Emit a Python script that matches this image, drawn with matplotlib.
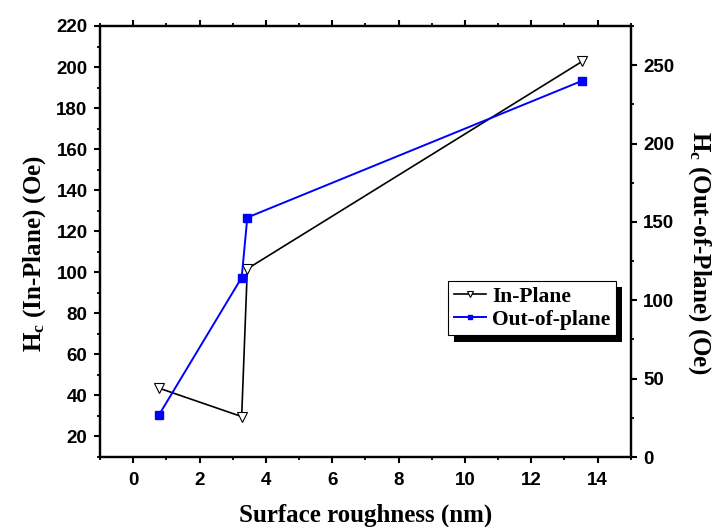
"""
Coercivity vs surface roughness, in-plane and out-of-plane
"""

import matplotlib

matplotlib.use("Agg")
from matplotlib import pyplot as plt
from matplotlib import patheffects
from matplotlib.font_manager import FontProperties
from matplotlib.ticker import MultipleLocator

roughness = [0.77, 3.27, 3.44, 13.53]
hc_in_plane = [43.6, 29.7, 101.7, 202.7]
hc_out_plane = [26.6, 114.5, 152.8, 240.0]

plt.rcParams["mathtext.fontset"] = "custom"
plt.rcParams["mathtext.bf"] = "Liberation Serif:bold"
plt.rcParams["mathtext.rm"] = "Liberation Serif:bold"
plt.rcParams["mathtext.it"] = "Liberation Serif:bold"

TICK_FONT = {"family": "Liberation Sans", "weight": "bold", "size": 13.5}
LABEL_FONT = {"family": "Liberation Serif", "weight": "bold", "size": 18}


def styleAxis(ax) -> None:
    for side in ax.spines.values():
        side.set_linewidth(1.6)
    ax.tick_params(which="major", direction="out", length=4.5, width=1.5, pad=4.5)
    ax.tick_params(which="minor", direction="out", length=2.5, width=1.3)
    for lab in ax.get_xticklabels() + ax.get_yticklabels():
        lab.set_fontproperties(FontProperties(**TICK_FONT))


fig = plt.figure(figsize=(7.16, 5.27), dpi=100)
ax = fig.add_axes([0.1397, 0.1328, 0.7413, 0.8179])
ax2 = ax.twinx()

(l1,) = ax.plot(
    roughness,
    hc_in_plane,
    color="k",
    lw=1.2,
    marker="v",
    ms=7.5,
    mfc="white",
    mec="k",
    mew=0.8,
    label="In-Plane",
)
(l2,) = ax2.plot(
    roughness,
    hc_out_plane,
    color="#0000ff",
    lw=1.4,
    marker="s",
    ms=5.5,
    mfc="#0000ff",
    mec="#0000ff",
    label="Out-of-plane",
)

ax.set_xlim(-1, 15)
ax.set_ylim(10, 220)
ax2.set_ylim(0, 275)
ax.xaxis.set_major_locator(MultipleLocator(2))
ax.xaxis.set_minor_locator(MultipleLocator(1))
ax.yaxis.set_major_locator(MultipleLocator(20))
ax.yaxis.set_minor_locator(MultipleLocator(10))
ax2.yaxis.set_major_locator(MultipleLocator(50))
ax2.yaxis.set_minor_locator(MultipleLocator(25))
ax.tick_params(axis="x", which="both", top=True, labeltop=False)

styleAxis(ax)
styleAxis(ax2)
ax.tick_params(axis="x", which="major", pad=6)

ax.set_xlabel("Surface roughness (nm)", fontdict=LABEL_FONT, labelpad=10.5)
ax.set_ylabel(r"H$_\mathbf{c}$ (In-Plane) (Oe)", fontdict=LABEL_FONT, labelpad=6)
ax2.set_ylabel(
    r"H$_\mathbf{c}$ (Out-of-Plane) (Oe)",
    fontdict=LABEL_FONT,
    rotation=270,
    va="bottom",
    labelpad=8.5,
)
ax.yaxis.label.set_y(0.471)
ax2.yaxis.label.set_y(0.474)

leg = ax.legend(
    [l1, l2],
    ["In-Plane", "Out-of-plane"],
    loc="upper left",
    bbox_to_anchor=(0.656, 0.408),
    prop={"family": "Liberation Serif", "weight": "bold", "size": 15.5},
    frameon=True,
    fancybox=False,
    edgecolor="k",
    framealpha=1,
    handlelength=1.5,
    handletextpad=0.3,
    borderpad=0.25,
    labelspacing=0.15,
    borderaxespad=0,
    markerscale=0.65,
)
leg.get_frame().set_linewidth(0.8)
leg.get_frame().set_path_effects(
    [
        patheffects.SimplePatchShadow(offset=(4.5, -4.5), shadow_rgbFace="k", alpha=1),
        patheffects.Normal(),
    ]
)

fig.savefig("out.png", dpi=100)
